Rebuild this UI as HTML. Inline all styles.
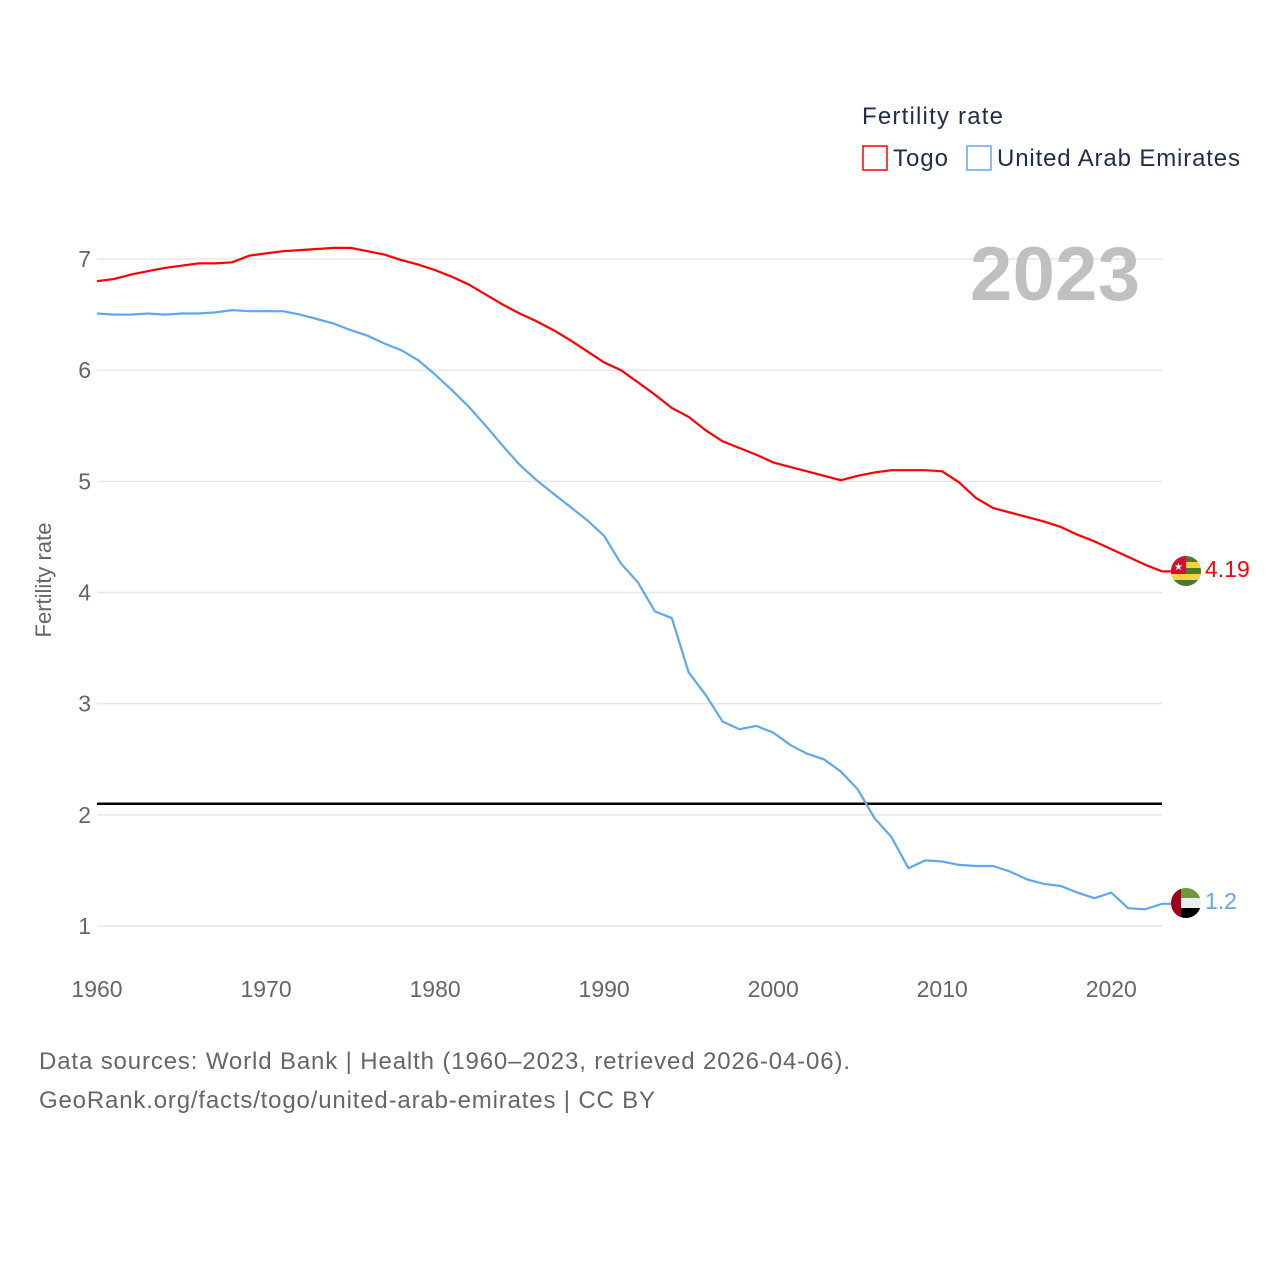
<!DOCTYPE html>
<html><head><meta charset="utf-8"><style>
html,body{margin:0;padding:0;background:#fff}
body{width:1280px;height:1280px;font-family:"Liberation Sans",sans-serif;position:relative;overflow:hidden}
</style></head><body>
<svg id="chart" width="1280" height="1280" xmlns="http://www.w3.org/2000/svg" style="position:absolute;left:0;top:0">
<defs>
<clipPath id="c1"><circle cx="1186" cy="571" r="15"/></clipPath>
<clipPath id="c2"><circle cx="1186" cy="903" r="15"/></clipPath>
</defs>
<g id="grid"></g>
<g id="xaxis"></g>
<text x="862" y="124" font-size="24" fill="#1e2d4a" textLength="141">Fertility rate</text>
<g><rect x="863" y="146" width="24" height="24" fill="none" stroke="#ff0000" stroke-width="1.5"/><text x="893" y="166" font-size="24" fill="#1e2d4a" textLength="55">Togo</text></g>
<g><rect x="967" y="146" width="24" height="24" fill="none" stroke="#5ea8f0" stroke-width="1.5"/><text x="997" y="166" font-size="24" fill="#1e2d4a" textLength="243">United Arab Emirates</text></g>
<text x="1140" y="300" font-size="76" font-weight="bold" fill="#c0c0c0" text-anchor="end" textLength="170">2023</text>
<text transform="translate(51,580) rotate(-90)" font-size="22" fill="#666" text-anchor="middle">Fertility rate</text>
<line id="repl" x1="97" x2="1162" stroke="#000" stroke-width="2.5"/>
<g id="series"></g>
<g clip-path="url(#c1)">
<rect x="1171" y="556" width="30" height="30" fill="#4a7a2a"/>
<rect x="1171" y="562" width="30" height="6" fill="#ffd040"/><rect x="1171" y="574" width="30" height="6" fill="#ffd040"/>
<rect x="1171" y="556" width="15" height="18" fill="#d21034"/>
<text x="1178.5" y="570" font-size="10" fill="#fff" text-anchor="middle">★</text></g>
<g clip-path="url(#c2)">
<rect x="1171" y="888" width="30" height="10" fill="#6a9a3a"/><rect x="1171" y="898" width="30" height="10" fill="#eee"/><rect x="1171" y="908" width="30" height="10" fill="#000"/><rect x="1171" y="888" width="10" height="30" fill="#a0001c"/></g>
<text x="1205" y="577" font-size="23" fill="#ff0000">4.19</text>
<text x="1205" y="909" font-size="23" fill="#5ea8f0">1.2</text>
<text x="39" y="1069" font-size="24" fill="#666" textLength="811">Data sources: World Bank | Health (1960–2023, retrieved 2026-04-06).</text>
<text x="39" y="1108" font-size="24" fill="#666" textLength="616">GeoRank.org/facts/togo/united-arab-emirates | CC BY</text>
</svg>
<script>
const years=[];for(let y=1960;y<=2023;y++)years.push(y);
const togo=[6.80,6.82,6.86,6.89,6.92,6.94,6.96,6.96,6.97,7.03,7.05,7.07,7.08,7.09,7.10,7.10,7.07,7.04,6.99,6.95,6.90,6.84,6.77,6.68,6.59,6.51,6.44,6.36,6.27,6.17,6.07,6.00,5.89,5.78,5.66,5.58,5.46,5.36,5.30,5.24,5.17,5.13,5.09,5.05,5.01,5.05,5.08,5.10,5.10,5.10,5.09,4.99,4.85,4.76,4.72,4.68,4.64,4.59,4.52,4.46,4.39,4.32,4.25,4.19];
const uae=[6.51,6.50,6.50,6.51,6.50,6.51,6.51,6.52,6.54,6.53,6.53,6.53,6.50,6.46,6.42,6.36,6.31,6.24,6.18,6.09,5.96,5.82,5.67,5.50,5.32,5.15,5.01,4.89,4.77,4.65,4.51,4.26,4.09,3.83,3.77,3.28,3.08,2.84,2.77,2.80,2.74,2.63,2.55,2.50,2.39,2.23,1.97,1.80,1.52,1.59,1.58,1.55,1.54,1.54,1.49,1.42,1.38,1.36,1.30,1.25,1.30,1.16,1.15,1.20];
const yTicks=[1,2,3,4,5,6,7];
const xTicks=[1960,1970,1980,1990,2000,2010,2020];
const replacement=2.1;
const X=y=>97+(y-1960)*(1065/63);
const Y=v=>926-(v-1)*(667/6);
const NS="http://www.w3.org/2000/svg";
const grid=document.getElementById('grid');
yTicks.forEach(t=>{
 const l=document.createElementNS(NS,'line');
 l.setAttribute('x1',97);l.setAttribute('x2',1162);l.setAttribute('y1',Y(t));l.setAttribute('y2',Y(t));
 l.setAttribute('stroke','#e6e6e6');l.setAttribute('stroke-width','1.5');
 
 
 grid.appendChild(l);
 const tx=document.createElementNS(NS,'text');
 tx.setAttribute('x',91);tx.setAttribute('y',Y(t)+8);tx.setAttribute('text-anchor','end');
 tx.setAttribute('font-size','23');tx.setAttribute('fill','#666');tx.textContent=t;
 
 
 grid.appendChild(tx);
});
const xa=document.getElementById('xaxis');
xTicks.forEach(t=>{
 const tx=document.createElementNS(NS,'text');
 tx.setAttribute('x',X(t));tx.setAttribute('y',997);tx.setAttribute('text-anchor','middle');
 tx.setAttribute('font-size','23');tx.setAttribute('fill','#666');tx.textContent=t;
 
 
 xa.appendChild(tx);
});
const r=document.getElementById('repl');r.setAttribute('y1',Y(replacement));r.setAttribute('y2',Y(replacement));
const sg=document.getElementById('series');
[[togo,'#ff0000','togo-line'],[uae,'#5ea8f0','uae-line']].forEach(([d,c,n])=>{
 const p=document.createElementNS(NS,'path');
 let s=d.map((v,i)=>(i?'L':'M')+X(years[i]).toFixed(1)+','+Y(v).toFixed(1)).join('');
 s+='L1171,'+Y(d[d.length-1]).toFixed(1);
 p.setAttribute('d',s);p.setAttribute('fill','none');p.setAttribute('stroke',c);p.setAttribute('stroke-width','2.2');
 
 
 sg.appendChild(p);
});
</script>
</body></html>
